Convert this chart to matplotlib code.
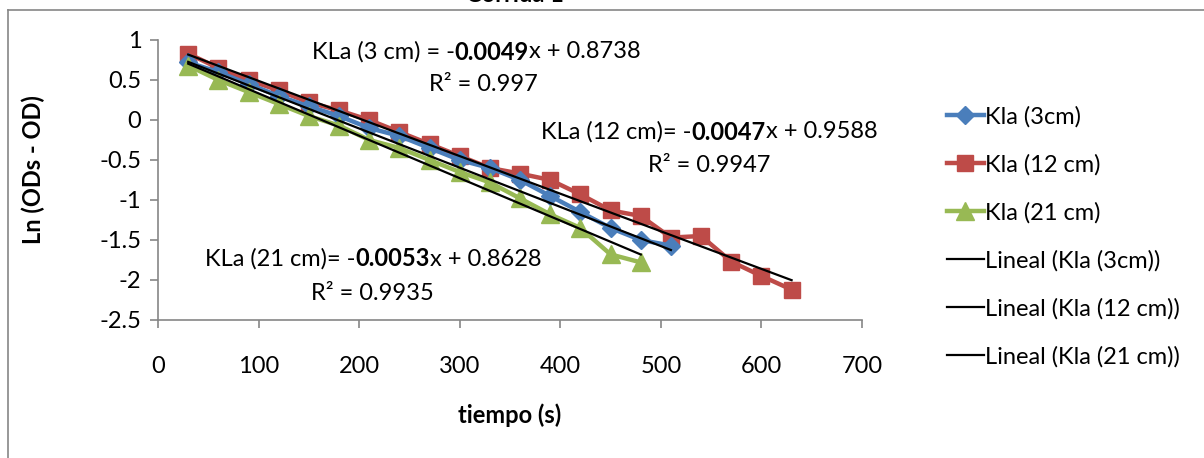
import matplotlib
matplotlib.use("Agg")
import matplotlib.pyplot as plt
from matplotlib.lines import Line2D
import numpy as np

plt.rcParams['font.family'] = ['Lato', 'DejaVu Sans']

# ---- data ----
t_3 = [30, 60, 90, 120, 150, 180, 210, 240, 270, 300, 330, 360, 390, 420, 450, 480, 510]
y_3 = [0.72, 0.60, 0.45, 0.30, 0.17, 0.05, -0.10, -0.20, -0.35, -0.50, -0.60, -0.75,
       -0.95, -1.15, -1.35, -1.50, -1.57]
t_12 = [30, 60, 90, 120, 150, 180, 210, 240, 270, 300, 330, 360, 390, 420, 450, 480,
        510, 540, 570, 600, 630]
y_12 = [0.83, 0.65, 0.50, 0.37, 0.22, 0.12, 0.00, -0.15, -0.30, -0.45, -0.60, -0.67,
        -0.75, -0.93, -1.13, -1.20, -1.47, -1.45, -1.77, -1.95, -2.12]
t_21 = [30, 60, 90, 120, 150, 180, 210, 240, 270, 300, 330, 360, 390, 420, 450, 480]
y_21 = [0.68, 0.50, 0.35, 0.20, 0.05, -0.07, -0.25, -0.35, -0.50, -0.65, -0.78, -0.98,
        -1.18, -1.35, -1.68, -1.78]

fit_slope = {'3': -0.0049, '12': -0.0047, '21': -0.0053}
fit_icpt = {'3': 0.8738, '12': 0.9588, '21': 0.8628}

x_ticks = [0, 100, 200, 300, 400, 500, 600, 700]
y_ticks = [-2.5, -2, -1.5, -1, -0.5, 0, 0.5, 1]
y_tick_labels = ['-2.5', '-2', '-1.5', '-1', '-0.5', '0', '0.5', '1']

W, H = 1204, 458
FS = 17
fig = plt.figure(figsize=(W / 100, H / 100), dpi=100)
ax = fig.add_axes([158 / W, 1 - 320 / H, (862 - 158) / W, (320 - 40) / H])

c_blue, c_red, c_green = '#4A7EBB', '#BE4B48', '#98B954'

ax.plot(t_3, y_3, color=c_blue, lw=3.2, marker='D', ms=9, label='Kla (3cm)', zorder=3)
ax.plot(t_12, y_12, color=c_red, lw=3.2, marker='s', ms=12, label='Kla (12 cm)', zorder=2)
ax.plot(t_21, y_21, color=c_green, lw=3.2, marker='^', ms=13, label='Kla (21 cm)', zorder=3)

for key, tt, lab in [('3', t_3, 'Lineal (Kla (3cm))'), ('12', t_12, 'Lineal (Kla (12 cm))'),
                     ('21', t_21, 'Lineal (Kla (21 cm))')]:
    xs = np.array([tt[0], tt[-1]], dtype=float)
    ax.plot(xs, fit_icpt[key] + fit_slope[key] * xs, color='black', lw=1.6, label=lab, zorder=4)

ax.set_xlim(0, 700)
ax.set_ylim(-2.5, 1)
ax.set_xticks(x_ticks)
ax.set_yticks(y_ticks)
ax.set_yticklabels(y_tick_labels)
for s in ['top', 'right']:
    ax.spines[s].set_visible(False)
for s in ['left', 'bottom']:
    ax.spines[s].set_color('#868686')
    ax.spines[s].set_linewidth(1.2)
ax.tick_params(axis='both', colors='#868686', labelcolor='black', labelsize=FS,
               length=6, width=1.2, direction='out')
ax.tick_params(axis='x', pad=20)
ax.tick_params(axis='y', pad=6)

ax.set_xlabel('tiempo (s)', fontsize=FS, fontweight='bold')
ax.set_ylabel('Ln (ODs - OD)', fontsize=FS, fontweight='bold')
ax.xaxis.set_label_coords(0.5, (320 - 415) / 280)
ax.yaxis.set_label_coords((33 - 158) / 704, (320 - 170) / 280)
ax.xaxis.label.set_va('center')
ax.yaxis.label.set_va('center')

leg = fig.legend(loc='upper left', bbox_to_anchor=(947 / W, 1 - 106 / H), frameon=False,
                 fontsize=FS, handlelength=1.55, labelspacing=1.12, handletextpad=0.05,
                 borderaxespad=0, borderpad=0)

# equations with bold slope
fig.canvas.draw()
renderer = fig.canvas.get_renderer()


def eq_text(cx, cy, parts):
    texts = []
    for s, w in parts:
        t = fig.text(0, 0, s, fontsize=FS, fontweight=w, va='center', ha='left')
        texts.append(t)
    widths = [t.get_window_extent(renderer).width for t in texts]
    total = sum(widths)
    x = cx - total / 2
    for t, wd in zip(texts, widths):
        t.set_position((x / W, 1 - cy / H))
        x += wd


eq_text(476, 52, [('KLa (3 cm) = -', 'normal'), ('0.0049', 'bold'), ('x + 0.8738', 'normal')])
eq_text(483, 85, [('R² = 0.997', 'normal')])
eq_text(709, 132, [('KLa (12 cm)= -', 'normal'), ('0.0047', 'bold'), ('x + 0.9588', 'normal')])
eq_text(709, 165, [('R² = 0.9947', 'normal')])
eq_text(373, 259, [('KLa (21 cm)= -', 'normal'), ('0.0053', 'bold'), ('x + 0.8628', 'normal')])
eq_text(372, 293, [('R² = 0.9935', 'normal')])

# outer chart frame
fig.add_artist(Line2D([8 / W, 8 / W], [0, 1 - 10 / H], color='#868686', lw=1.2,
                      transform=fig.transFigure))
fig.add_artist(Line2D([8 / W, 1], [1 - 10 / H, 1 - 10 / H], color='#868686', lw=1.2,
                      transform=fig.transFigure))

# title (mostly cut off at the top, as in the reference)
fig.text(515 / W, 1 - 1.5 / H, 'Corrida 1', fontsize=FS, fontweight='bold',
         ha='center', va='baseline')

fig.savefig('out.png', dpi=100)
